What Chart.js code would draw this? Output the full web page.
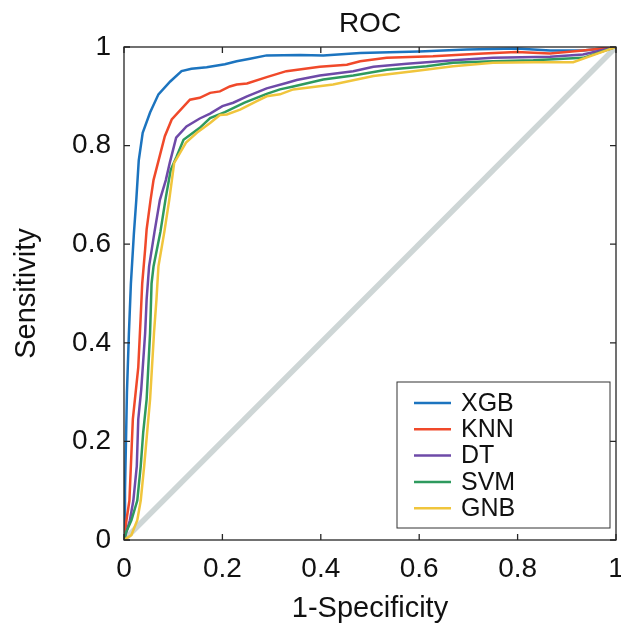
<!DOCTYPE html>
<html>
<head>
<meta charset="utf-8">
<script src="https://cdn.jsdelivr.net/npm/chart.js@4"></script>
<style>
  html, body { margin: 0; padding: 0; background: #fff; }
  #wrap { width: 621px; height: 626px; }
</style>
</head>
<body>
<div id="wrap"><canvas id="roc-canvas" width="621" height="626"></canvas></div>
<script>
// ROC curves (false positive rate vs true positive rate)
const xgb_fpr = [0, 0.002, 0.004, 0.006, 0.01, 0.014, 0.02, 0.025, 0.03, 0.038, 0.053, 0.07, 0.094, 0.117, 0.137, 0.168, 0.205, 0.229, 0.256, 0.29, 0.358, 0.405, 0.48, 0.6, 0.697, 0.798, 0.866, 0.933, 1];
const xgb_tpr = [0, 0.1, 0.2, 0.3, 0.42, 0.52, 0.62, 0.69, 0.77, 0.826, 0.867, 0.904, 0.93, 0.951, 0.956, 0.959, 0.965, 0.971, 0.976, 0.983, 0.984, 0.983, 0.988, 0.991, 0.995, 0.997, 0.993, 0.993, 1];

const knn_fpr = [0, 0.005, 0.011, 0.018, 0.029, 0.034, 0.037, 0.043, 0.046, 0.054, 0.06, 0.083, 0.097, 0.134, 0.154, 0.175, 0.195, 0.215, 0.229, 0.25, 0.29, 0.33, 0.398, 0.453, 0.48, 0.534, 0.628, 0.73, 0.798, 0.866, 0.933, 1];
const knn_tpr = [0, 0.04, 0.08, 0.245, 0.35, 0.454, 0.52, 0.59, 0.63, 0.69, 0.73, 0.819, 0.853, 0.893, 0.897, 0.907, 0.91, 0.92, 0.924, 0.926, 0.939, 0.951, 0.96, 0.964, 0.971, 0.978, 0.981, 0.987, 0.99, 0.987, 0.993, 1];

const dt_fpr = [0, 0.012, 0.019, 0.026, 0.029, 0.035, 0.043, 0.046, 0.051, 0.062, 0.073, 0.085, 0.093, 0.106, 0.127, 0.154, 0.175, 0.2, 0.222, 0.25, 0.29, 0.33, 0.351, 0.398, 0.466, 0.507, 0.575, 0.669, 0.75, 0.866, 0.933, 1];
const dt_tpr = [0, 0.04, 0.08, 0.15, 0.245, 0.305, 0.42, 0.488, 0.555, 0.625, 0.69, 0.73, 0.765, 0.816, 0.839, 0.855, 0.865, 0.88, 0.887, 0.9, 0.916, 0.927, 0.933, 0.942, 0.951, 0.96, 0.966, 0.973, 0.978, 0.98, 0.985, 1];

const svm_fpr = [0, 0.004, 0.015, 0.027, 0.034, 0.039, 0.046, 0.053, 0.056, 0.06, 0.074, 0.085, 0.095, 0.107, 0.121, 0.154, 0.175, 0.205, 0.245, 0.29, 0.317, 0.344, 0.405, 0.466, 0.534, 0.615, 0.669, 0.75, 0.832, 0.933, 1];
const svm_tpr = [0, 0.015, 0.04, 0.08, 0.15, 0.218, 0.285, 0.42, 0.52, 0.555, 0.625, 0.695, 0.751, 0.778, 0.812, 0.836, 0.856, 0.868, 0.887, 0.905, 0.914, 0.92, 0.934, 0.942, 0.954, 0.961, 0.968, 0.971, 0.973, 0.978, 1];

const gnb_fpr = [0, 0.015, 0.027, 0.034, 0.041, 0.047, 0.053, 0.061, 0.066, 0.07, 0.082, 0.092, 0.102, 0.126, 0.148, 0.175, 0.195, 0.209, 0.236, 0.27, 0.29, 0.317, 0.344, 0.425, 0.507, 0.588, 0.669, 0.75, 0.832, 0.913, 1];
const gnb_tpr = [0, 0.01, 0.04, 0.08, 0.15, 0.218, 0.285, 0.42, 0.488, 0.555, 0.625, 0.69, 0.765, 0.806, 0.826, 0.846, 0.862, 0.863, 0.873, 0.89, 0.9, 0.904, 0.914, 0.924, 0.941, 0.951, 0.961, 0.968, 0.969, 0.969, 1];

const chance_fpr = [0, 1];
const chance_tpr = [0, 1];

const model_names = ['XGB', 'KNN', 'DT', 'SVM', 'GNB'];
const model_colors = ['#1c74bf', '#f0492a', '#6e4aa8', '#2e9a5e', '#f0c53c'];
const tick_values = [0, 0.2, 0.4, 0.6, 0.8, 1];

const FONT = "'Liberation Sans', Arial, Helvetica, sans-serif";

function to_points(xs, ys) {
    return xs.map((x, i) => ({ x: x, y: ys[i] }));
}

// frame around the axes, inward ticks on all four sides, legend box inside
const frame_plugin = {
    id: 'frame',
    afterDraw(chart) {
        const ctx = chart.ctx;
        const a = chart.chartArea;
        const xs = chart.scales.x;
        const ys = chart.scales.y;
        const tl = 6;
        ctx.save();
        ctx.strokeStyle = '#262626';
        ctx.lineWidth = 1.3;
        ctx.strokeRect(a.left, a.top, a.right - a.left, a.bottom - a.top);
        ctx.beginPath();
        for (const v of tick_values) {
            const px = xs.getPixelForValue(v);
            ctx.moveTo(px, a.bottom); ctx.lineTo(px, a.bottom - tl);
            ctx.moveTo(px, a.top); ctx.lineTo(px, a.top + tl);
            const py = ys.getPixelForValue(v);
            ctx.moveTo(a.left, py); ctx.lineTo(a.left + tl, py);
            ctx.moveTo(a.right, py); ctx.lineTo(a.right - tl, py);
        }
        ctx.stroke();

        // legend
        const items = chart.data.datasets.filter(d => d.label);
        const box = { left: a.right - 219, top: a.top + 335, w: 213, h: 146 };
        ctx.fillStyle = '#ffffff';
        ctx.fillRect(box.left, box.top, box.w, box.h);
        ctx.strokeStyle = '#333333';
        ctx.lineWidth = 1;
        ctx.strokeRect(box.left, box.top, box.w, box.h);
        ctx.font = '25px ' + FONT;
        ctx.textBaseline = 'middle';
        ctx.textAlign = 'left';
        items.forEach((d, i) => {
            const y = box.top + 21 + i * 26.3;
            ctx.strokeStyle = d.borderColor;
            ctx.lineWidth = 2.5;
            ctx.beginPath();
            ctx.moveTo(box.left + 17, y);
            ctx.lineTo(box.left + 54, y);
            ctx.stroke();
            ctx.fillStyle = '#111111';
            ctx.fillText(d.label, box.left + 64, y + 1);
        });
        ctx.restore();
    }
};

const fpr_list = [xgb_fpr, knn_fpr, dt_fpr, svm_fpr, gnb_fpr];
const tpr_list = [xgb_tpr, knn_tpr, dt_tpr, svm_tpr, gnb_tpr];

const datasets = model_names.map((name, i) => ({
    label: name,
    data: to_points(fpr_list[i], tpr_list[i]),
    borderColor: model_colors[i],
    backgroundColor: model_colors[i],
    borderWidth: 2.5,
    showLine: true,
    pointRadius: 0,
    tension: 0,
    order: model_names.length - i
}));

datasets.push({
    label: '',
    data: to_points(chance_fpr, chance_tpr),
    borderColor: '#ced6d6',
    borderWidth: 5.5,
    showLine: true,
    pointRadius: 0,
    order: 10
});

const ctx = document.getElementById('roc-canvas').getContext('2d');
new Chart(ctx, {
    type: 'scatter',
    data: { datasets: datasets },
    options: {
        responsive: false,
        animation: false,
        layout: { padding: { top: 0, right: 5, bottom: 0, left: 0 } },
        plugins: {
            legend: { display: false },
            tooltip: { enabled: false },
            title: {
                display: true,
                text: 'ROC',
                fullSize: false,
                color: '#111111',
                font: { family: FONT, size: 28, weight: 'normal', lineHeight: 1.2 },
                padding: { top: 7, bottom: 6.4 }
            }
        },
        scales: {
            x: {
                type: 'linear',
                min: 0,
                max: 1,
                grid: { display: false, drawTicks: false },
                border: { display: false },
                afterBuildTicks(scale) { scale.ticks = tick_values.map(v => ({ value: v })); },
                afterFit(scale) {
                    scale.height = 86;
                    scale.paddingLeft = 0;
                    scale.paddingRight = 0;
                },
                ticks: {
                    color: '#111111',
                    padding: 12,
                    maxRotation: 0,
                    font: { family: FONT, size: 28 },
                    callback: v => String(v)
                },
                title: {
                    display: true,
                    text: '1-Specificity',
                    color: '#111111',
                    font: { family: FONT, size: 29 },
                    padding: { top: 0, bottom: 0 }
                }
            },
            y: {
                type: 'linear',
                min: 0,
                max: 1,
                grid: { display: false, drawTicks: false },
                border: { display: false },
                afterBuildTicks(scale) { scale.ticks = tick_values.map(v => ({ value: v })); },
                afterFit(scale) {
                    scale.width = 124;
                    scale.paddingTop = 0;
                    scale.paddingBottom = 0;
                },
                ticks: {
                    color: '#111111',
                    padding: 13,
                    font: { family: FONT, size: 28 },
                    callback: v => String(v)
                },
                title: {
                    display: true,
                    text: 'Sensitivity',
                    color: '#111111',
                    font: { family: FONT, size: 29 },
                    padding: { top: 10, bottom: 0 }
                }
            }
        }
    },
    plugins: [frame_plugin]
});
</script>
</body>
</html>
